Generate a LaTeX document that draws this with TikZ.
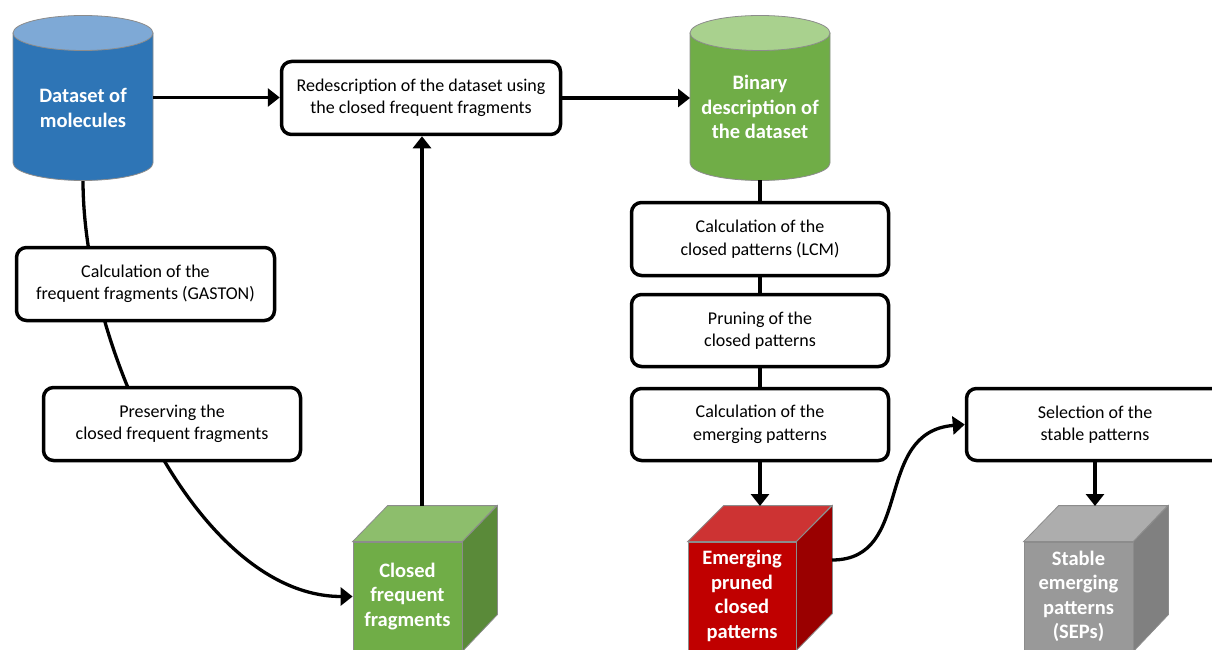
\documentclass[tikz,border=0pt]{standalone}
\usepackage{fontspec}
\setmainfont{Carlito}
\usetikzlibrary{arrows.meta}
\pgfdeclarelayer{bg}
\pgfsetlayers{bg,main}
\definecolor{blueF}{HTML}{2E75B6}
\definecolor{blueT}{HTML}{7EA9D6}
\definecolor{greenF}{HTML}{70AD47}
\definecolor{greenT}{HTML}{A9D18E}
\definecolor{greenCT}{HTML}{8DBE6C}
\definecolor{greenCR}{HTML}{5A8A39}
\definecolor{redF}{HTML}{C00000}
\definecolor{redT}{HTML}{CD3333}
\definecolor{redR}{HTML}{9A0000}
\definecolor{grayF}{HTML}{999999}
\definecolor{grayT}{HTML}{ADADAD}
\definecolor{grayR}{HTML}{808080}
\definecolor{edgec}{HTML}{8C8C8C}
\tikzset{
  stepbox/.style={draw=black, line width=3.5pt, rounded corners=10pt, fill=white,
    minimum width=257pt, minimum height=72pt, inner sep=0pt, align=center,
    font=\fontsize{18}{22.5}\selectfont},
  conn/.style={line width=3.3pt},
  arr/.style={conn, -{Triangle[length=12pt,width=18pt]}},
  shapetext/.style={text=white, font=\bfseries\fontsize{20.5}{24.5}\selectfont, align=center, inner sep=0pt},
  anchorbox/.style={inner sep=0pt, outer sep=0pt},
  facedge/.style={draw=edgec, line width=0.8pt},
  cubefront/.style={facedge, shapetext, minimum width=109pt, minimum height=109pt},
}
\begin{document}
\begin{tikzpicture}[x=1pt,y=-1pt]
\useasboundingbox (0,0) rectangle (1212,650);
\clip (0,0) rectangle (1212,650);

% blue cylinder
\filldraw[fill=blueF, facedge] (13,33) -- (13,163) arc[start angle=180, end angle=360, x radius=70pt, y radius=17.5pt] -- (153,33) -- cycle;
\filldraw[fill=blueT, facedge] (83,33) ellipse [x radius=70pt, y radius=17.5pt];
\node[anchorbox, minimum width=140pt, minimum height=165pt] (ds) at (83,97.5) {};
\node[shapetext] (dstext) at (83,108) {Dataset of\\molecules};

% green cylinder
\filldraw[fill=greenF, facedge] (690,33) -- (690,163) arc[start angle=180, end angle=360, x radius=70pt, y radius=17.5pt] -- (830,33) -- cycle;
\filldraw[fill=greenT, facedge] (760,33) ellipse [x radius=70pt, y radius=17.5pt];
\node[anchorbox, minimum width=140pt, minimum height=165pt] (bin) at (760,97.5) {};
\node[shapetext] (bintext) at (760,107) {Binary\\description of\\the dataset};

% green cube
\node[cubefront, fill=greenF] (cff) at (407.5,596.5) {Closed\\frequent\\fragments};
\filldraw[fill=greenCT, facedge] (cff.north west) -- ++(35,-36) -- ++(109,0) -- (cff.north east) -- cycle;
\filldraw[fill=greenCR, facedge] (cff.north east) -- ++(35,-36) -- ++(0,109) -- (cff.south east) -- cycle;
\coordinate (cfftop) at (422,506);

% red cube
\node[cubefront, fill=redF, minimum width=108pt, minimum height=108pt] (epc) at (742,596) {Emerging\\pruned\\closed\\patterns};
\filldraw[fill=redT, facedge] (epc.north west) -- ++(36,-36) -- ++(108,0) -- (epc.north east) -- cycle;
\filldraw[fill=redR, facedge] (epc.north east) -- ++(36,-36) -- ++(0,108) -- (epc.south east) -- cycle;
\coordinate (redtop) at (760,506);
\coordinate (redright) at (832,560);

% gray cube
\node[cubefront, fill=grayF] (sep) at (1078.5,596.5) {Stable\\emerging\\patterns\\(SEPs)};
\filldraw[fill=grayT, facedge] (sep.north west) -- ++(35,-36) -- ++(109,0) -- (sep.north east) -- cycle;
\filldraw[fill=grayR, facedge] (sep.north east) -- ++(35,-36) -- ++(0,109) -- (sep.south east) -- cycle;
\coordinate (graytop) at (1095,506);

% process boxes
\node[stepbox, minimum width=279pt, minimum height=73pt] (redesc) at (421,98) {Redescription of the dataset using\\the closed frequent fragments};
\node[stepbox, minimum width=258pt, minimum height=73pt] (calc1) at (145.5,284) {Calculation of the\\frequent fragments (GASTON)};
\node[stepbox, minimum height=73pt] (pres) at (172,424) {Preserving the\\closed frequent fragments};
\node[stepbox, minimum height=73pt] (lcm) at (760,239) {Calculation of the\\closed patterns (LCM)};
\node[stepbox] (prune) at (760,330.5) {Pruning of the\\closed patterns};
\node[stepbox] (emerg) at (760,424.5) {Calculation of the\\emerging patterns};
\node[stepbox] (select) at (1095,424.5) {Selection of the\\stable patterns};

% connectors
\begin{pgfonlayer}{bg}
\draw[arr] (ds.south) .. controls (83,350) and (200,596.5) .. (cff.west);
\end{pgfonlayer}
\draw[arr] (ds.east) -- (ds.east -| redesc.west);
\draw[arr] (redesc.east) -- (redesc.east -| bin.west);
\draw[arr] (cfftop) -- (cfftop |- redesc.south);
\draw[conn] (bin.south) -- (lcm.north);
\draw[conn] (lcm.south) -- (prune.north);
\draw[conn] (prune.south) -- (emerg.north);
\draw[arr] (emerg.south) -- (redtop);
\draw[arr] (redright) .. controls (915,560) and (872,432) .. (select.west);
\draw[arr] (select.south) -- (graytop);
\end{tikzpicture}
\end{document}
